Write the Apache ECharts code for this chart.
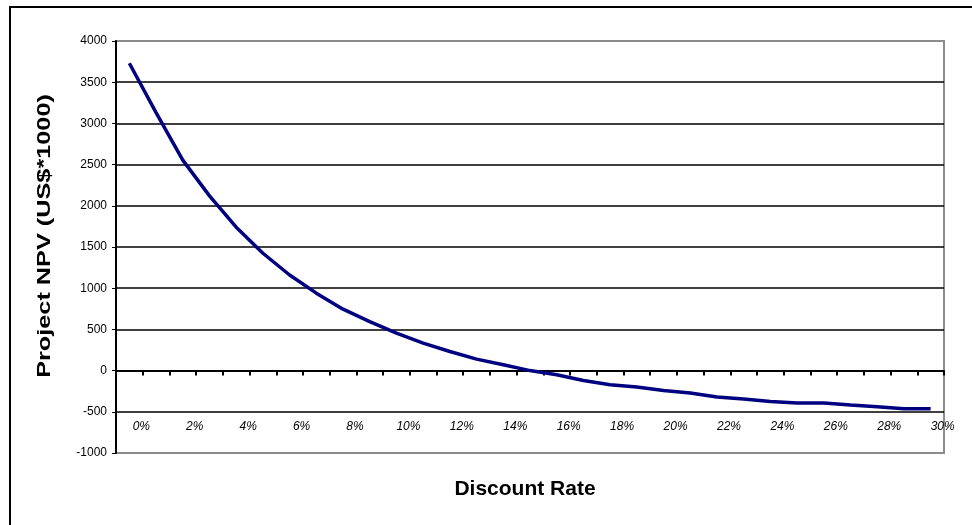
<!DOCTYPE html>
<html>
<head>
<meta charset="utf-8">
<script src="https://cdn.jsdelivr.net/npm/echarts@6/dist/echarts.min.js"></script>
<style>
  html, body { margin: 0; padding: 0; background: #fff; }
  #chart { width: 972px; height: 525px; }
</style>
</head>
<body>
<div id="chart"></div>
<script>
// Discount rates (percent) and the project NPV at each rate, in US$ thousands
const rates = [0,1,2,3,4,5,6,7,8,9,10,11,12,13,14,15,16,17,18,19,20,21,22,23,24,25,26,27,28,29,30];
const npv = [3730, 3130, 2554, 2120, 1740, 1424, 1160, 940, 745, 595, 454, 333, 232, 139, 70, 0,
             -51, -120, -172, -200, -241, -273, -321, -345, -374, -394, -394, -418, -439, -463, -463];
const yTicks = { min: -1000, max: 4000, step: 500 };
const yTitle = 'Project NPV (US$*1000)';
const xTitle = 'Discount Rate';

const categories = rates.map(r => r + '%');
const FONT = '"Liberation Sans", Arial, sans-serif';

// outer frame lines are gray at the plot edges, black inside
const nLines = (yTicks.max - yTicks.min) / yTicks.step + 1;
const splitColors = [];
for (let i = 0; i < nLines; i++) {
  splitColors.push(i === 0 || i === nLines - 1 ? '#8c8c8c' : '#000000');
}

const chart = echarts.init(document.getElementById('chart'), null, { renderer: 'canvas' });
chart.setOption({
  animation: false,
  backgroundColor: '#ffffff',
  grid: {
    left: 116, right: 28, top: 41, bottom: 72,
    containLabel: false,
    outerBoundsMode: 'none',
    show: true, borderColor: '#8c8c8c', borderWidth: 2, backgroundColor: 'transparent'
  },
  graphic: [{
    type: 'rect',
    shape: { x: 10, y: 7, width: 1000, height: 560 },
    style: { fill: 'none', stroke: '#000', lineWidth: 2 },
    silent: true, z: 100
  }, {
    // vertical axis title, set slightly condensed across its height
    type: 'text',
    x: 45, y: 236,
    rotation: Math.PI / 2,
    scaleX: 1.33,
    style: {
      text: yTitle,
      font: 'bold 19px "Liberation Sans", Arial, sans-serif',
      fill: '#000',
      align: 'center',
      verticalAlign: 'middle'
    },
    silent: true
  }],
  xAxis: {
    type: 'category',
    data: categories,
    boundaryGap: true,
    axisLine: { onZero: true, lineStyle: { color: '#000', width: 2 } },
    axisTick: { show: true, interval: 0, inside: false, length: 5, lineStyle: { color: '#000', width: 2 } },
    axisLabel: {
      interval: 1,
      margin: -32,
      padding: [0, 0, 0, 24],
      fontFamily: FONT, fontSize: 12, fontStyle: 'italic', color: '#000'
    },
    splitLine: { show: false },
    name: xTitle,
    nameLocation: 'middle',
    nameGap: 26,
    nameTextStyle: { fontFamily: FONT, fontSize: 21, fontWeight: 'bold', color: '#000', padding: [0, 10, 0, 0] }
  },
  yAxis: {
    type: 'value',
    min: yTicks.min, max: yTicks.max, interval: yTicks.step,
    axisLine: { show: true, lineStyle: { color: '#000', width: 2 } },
    axisTick: { show: true, length: 4, lineStyle: { color: '#000', width: 1 } },
    axisLabel: { margin: 9, fontFamily: FONT, fontSize: 12, color: '#000', formatter: v => String(v) },
    splitLine: { show: true, lineStyle: { color: splitColors, width: 1.5 } }
  },
  series: [{
    type: 'line',
    data: npv,
    symbol: 'none',
    smooth: false,
    lineStyle: { color: '#000080', width: 3.5 },
    z: 5
  }]
});
</script>
</body>
</html>
